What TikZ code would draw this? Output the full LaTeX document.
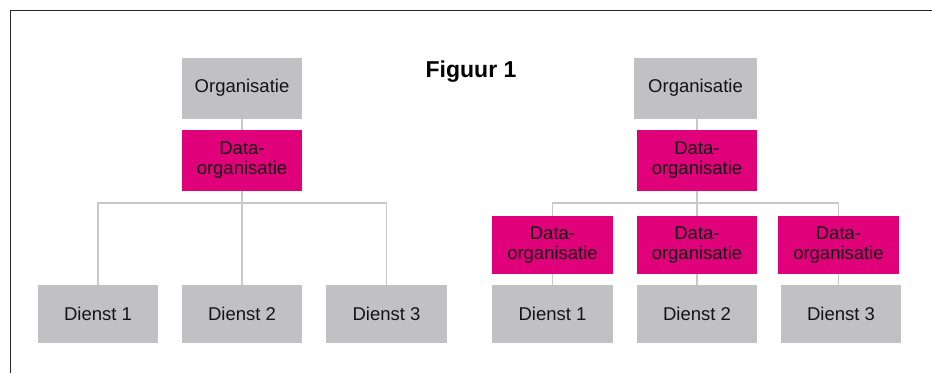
\documentclass[tikz,border=0pt]{standalone}
\usepackage{fontspec}
\setmainfont{Liberation Sans}
\definecolor{boxgray}{HTML}{C1C1C3}
\definecolor{magenta}{HTML}{E0007A}
\definecolor{linegray}{HTML}{C8C8C8}
\definecolor{txt}{HTML}{141414}
\begin{document}
\begin{tikzpicture}[x=1pt,y=-1pt,
  box/.style={inner sep=0pt, align=center, text=txt, font=\fontsize{18.5}{20}\selectfont, minimum height=#1},
  graybox/.style={box=58pt, fill=boxgray},
  pinkbox/.style={box=58pt, fill=magenta},
  conn/.style={draw=linegray, line width=1.6pt}]
\useasboundingbox (0,0) rectangle (932,373);
\fill[white] (0,0) rectangle (932,373);
\draw[line width=1pt, black!85] (10,373) -- (10,10) -- (932,10);

\node[font=\bfseries\fontsize{23}{24}\selectfont] (title) at (471,72) {Figuur 1};

% left tree
\node[graybox, minimum width=120pt, minimum height=61pt] (o1) at (242,88) {Organisatie};
\node[pinkbox, minimum width=120pt, minimum height=61pt] (d1) at (242,160.5) {Data-\\organisatie};
\node[graybox, minimum width=120pt] (s1) at (98,314) {Dienst 1};
\node[graybox, minimum width=120pt] (s2) at (242,314) {Dienst 2};
\node[graybox, minimum width=121pt] (s3) at (386.5,314) {Dienst 3};
\coordinate (b1) at (242,203);
\draw[conn] (o1) -- (d1);
\draw[conn] (d1) -- (b1);
\draw[conn] (b1) -| (s1);
\draw[conn] (b1) -| (s3);
\draw[conn] (b1) -- (s2);

% right tree
\node[graybox, minimum width=123pt, minimum height=61pt] (o2) at (695.5,88) {Organisatie};
\node[pinkbox, minimum width=120pt, minimum height=61pt] (d2) at (697,160.5) {Data-\\organisatie};
\node[pinkbox, minimum width=121pt] (p1) at (552.5,245) {Data-\\organisatie};
\node[pinkbox, minimum width=120pt] (p2) at (697,245) {Data-\\organisatie};
\node[pinkbox, minimum width=121pt] (p3) at (838.5,245) {Data-\\organisatie};
\node[graybox, minimum width=121pt] (t1) at (552.5,314) {Dienst 1};
\node[graybox, minimum width=120pt] (t2) at (697,314) {Dienst 2};
\node[graybox, minimum width=120pt] (t3) at (841,314) {Dienst 3};
\coordinate (b2) at (697,203);
\draw[conn] (o2.south -| d2) -- (d2);
\draw[conn] (d2) -- (b2);
\draw[conn] (b2) -| (p1);
\draw[conn] (b2) -| (p3);
\draw[conn] (b2) -- (p2);
\draw[conn] (p1) -- (t1);
\draw[conn] (p2) -- (t2);
\draw[conn] (p3.south) -- (p3.south |- t3.north);
\end{tikzpicture}
\end{document}
